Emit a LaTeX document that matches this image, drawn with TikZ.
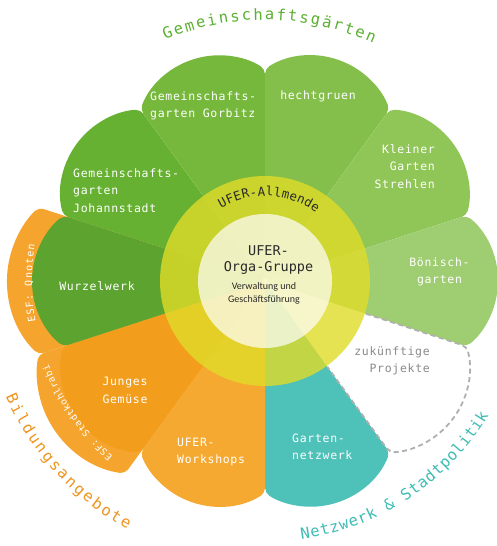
\documentclass[tikz,border=0pt]{standalone}
\usepackage{fontspec}
\usetikzlibrary{decorations.text}
\newfontfamily\petalfont[LetterSpace=6]{DejaVu Sans Mono}
\newfontfamily\arcmono{DejaVu Sans Mono}
\newfontfamily\subfont{Carlito}
\definecolor{cJoh}{HTML}{66B032}
\definecolor{cGor}{HTML}{76B83C}
\definecolor{cHec}{HTML}{84BF4B}
\definecolor{cStr}{HTML}{90C657}
\definecolor{cBoe}{HTML}{9FCD71}
\definecolor{cWurz}{HTML}{5CA32F}
\definecolor{cJung}{HTML}{F39D1C}
\definecolor{cWork}{HTML}{F6A931}
\definecolor{cNet}{HTML}{4EC1B9}
\definecolor{cBand}{HTML}{F5A52E}
\definecolor{cRing}{HTML}{E0DC28}
\definecolor{cDash}{HTML}{B0B0B0}
\definecolor{cGtitle}{HTML}{5BB030}
\definecolor{cBtitle}{HTML}{EE951F}
\definecolor{cNtitle}{HTML}{3EBDB4}
\definecolor{cDark}{HTML}{2A2A2A}
\definecolor{cGray}{HTML}{8A8A8A}
\begin{document}
\begin{tikzpicture}[x=1pt,y=1pt,
  petaltext/.style={text=white, font=\petalfont\fontsize{11.5}{17.5}\selectfont, inner sep=0pt},
  arclabel/.style={decorate, decoration={text along path, text align={fit to path}, text color=#1}},
]
\useasboundingbox (-265,-265) rectangle (231,281);
\fill[white] (-265,-265) rectangle (231,281);
% orange band behind Wurzelwerk / Junges Gemuese
\foreach \ang in {180,216}{
  \fill[fill=cBand, rotate=\ang, rounded corners=5pt] (0,0) -- (18:238) arc[start angle=46.56, end angle=-46.56, radius=101.3] -- cycle;
}
% petals
\foreach \ang/\col in {144/cJoh,108/cGor,72/cHec,36/cStr,0/cBoe,-72/cNet,-108/cWork,-144/cJung,180/cWurz}{
  \fill[fill=\col, rotate=\ang, rounded corners=5pt] (0,0) -- (18:212) arc[start angle=51.2, end angle=-51.2, radius=84] -- cycle;
}
% future projects (dashed)
\draw[cDash, line width=1.8pt, dash pattern=on 5pt off 3.5pt, rotate=-36, rounded corners=5pt]
  (18:106) -- (18:212) arc[start angle=51.2, end angle=-51.2, radius=84] -- (-18:106);
% ring and inner circle
\fill[fill=cRing, fill opacity=0.8] (0,0) circle[radius=105];
\fill[white, fill opacity=0.7] (0,0) circle[radius=67];

% petal labels
\node[petaltext, align=left, anchor=west] (gorbitz) at (-115,175) {Gemeinschafts-\\garten Gorbitz};
\node[petaltext] (hecht) at (53,185) {hechtgruen};
\node[petaltext, align=right, anchor=east] (strehlen) at (170,114.5) {Kleiner\\Garten\\Strehlen};
\node[petaltext, align=center] (boenisch) at (174.5,9) {Bönisch-\\garten};
\node[petaltext, text=cGray, align=right, anchor=east] (zukunft) at (165,-80) {zukünftige\\Projekte};
\node[petaltext, align=left, anchor=west] (netz) at (27,-166) {Garten-\\netzwerk};
\node[petaltext, align=left, anchor=west] (work) at (-88,-171) {UFER-\\Workshops};
\node[petaltext, align=center] (jung) at (-140,-109.5) {Junges\\Gemüse};
\node[petaltext] (wurzel) at (-168,-5) {Wurzelwerk};
\node[petaltext, align=left, anchor=west] (johann) at (-192,90.5) {Gemeinschafts-\\garten\\Johannstadt};

% centre
\node[text=cDark, font=\arcmono\fontsize{13.5}{16.5}\selectfont, align=center, inner sep=0pt] (orga) at (3.5,21) {UFER-\\Orga-Gruppe};
\node[text=cDark, font=\subfont\fontsize{10}{13}\selectfont, align=center, inner sep=0pt] (verw) at (-1,-12.5) {Verwaltung und\\Geschäftsführung};

% curved labels
\path[arclabel=cDark, decoration={text={|\arcmono\fontsize{12.5}{13}\selectfont|UFER-Allmende}}]
  (121:85) arc[start angle=121, end angle=53, radius=85];
\path[arclabel=cGtitle, decoration={text={|\arcmono\fontsize{15.5}{16}\selectfont|Gemeinschaftsgärten}}]
  (112.5:261) arc[start angle=112.5, end angle=65.5, radius=261];
\path[arclabel=cBtitle, decoration={text={|\arcmono\fontsize{15.5}{16}\selectfont|Bildungsangebote}}]
  (204:284) arc[start angle=204, end angle=241, radius=284];
\path[arclabel=cNtitle, decoration={text={|\arcmono\fontsize{15.5}{16}\selectfont|Netzwerk {\&} Stadtpolitik}}]
  (278:261) arc[start angle=278, end angle=329, radius=261];
\path[arclabel=white, decoration={text={|\arcmono\fontsize{10}{10}\selectfont|ESF: Qnoten}}]
  (190:233) arc[start angle=190, end angle=171, radius=233];
\path[arclabel=white, decoration={text={|\arcmono\fontsize{9.5}{10}\selectfont|ESF: Stadtkohlrabi}}]
  (229:232) arc[start angle=229, end angle=201, radius=232];
\end{tikzpicture}
\end{document}
